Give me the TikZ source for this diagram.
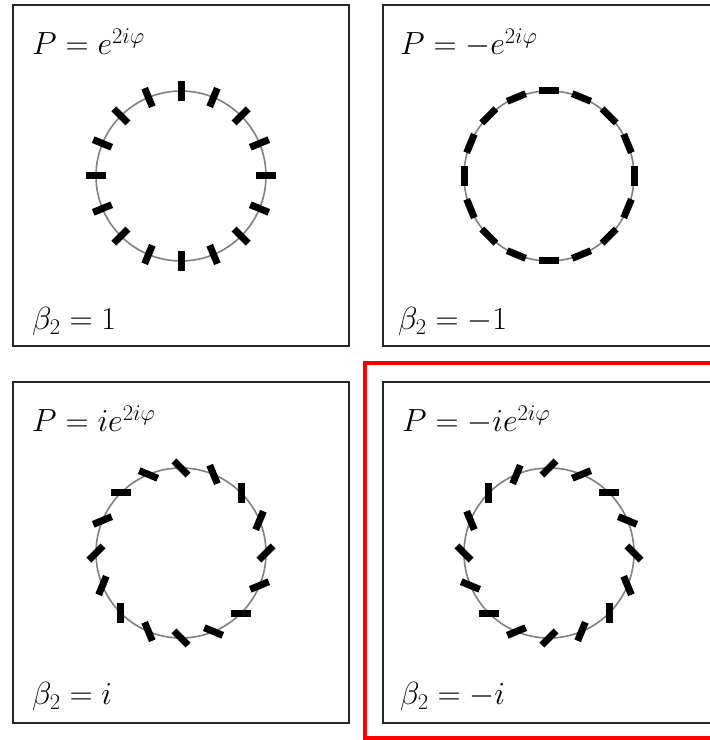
\RequirePackage{fix-cm}
\documentclass[tikz,border=0pt]{standalone}
\begin{document}
\begin{tikzpicture}[x=1pt,y=1pt]
\tikzset{
  panel/.style={draw=black!85, line width=2pt},
  ring/.style={draw=black!50, line width=1.6pt},
  bar/.style={draw=black, line width=7pt, line cap=butt},
  lbl/.style={anchor=base west, inner sep=0pt, font=\fontsize{32}{38}\selectfont},
  redframe/.style={draw=red, line width=4pt}
}
\useasboundingbox (0,0) rectangle (710,740);
\clip (0,0) rectangle (710,740);
\fill[white] (0,0) rectangle (710,740);

% panels
\draw[panel] (13,394) rectangle (349,735);
\draw[panel] (383,394) rectangle (719,735);
\draw[panel] (13,17) rectangle (349,358);
\draw[panel] (383,17) rectangle (719,358);
\draw[redframe] (365,2) rectangle (730,377);

% centres
\coordinate (c1) at (181,564);
\coordinate (c2) at (549,564);
\coordinate (c3) at (181,187);
\coordinate (c4) at (549,187);

\draw[ring] (c1) circle (85pt);
\draw[ring] (c2) circle (85pt);
\draw[ring] (c3) circle (85pt);
\draw[ring] (c4) circle (85pt);

\foreach \k in {0,...,15}{
  \pgfmathsetmacro{\ph}{22.5*\k}
  \draw[bar] (c1) ++(\ph:85pt) ++({\ph}:-10pt) -- ++({\ph}:20pt);
  \draw[bar] (c2) ++(\ph:85pt) ++({\ph+90}:-10pt) -- ++({\ph+90}:20pt);
  \draw[bar] (c3) ++(\ph:85pt) ++({\ph+45}:-10pt) -- ++({\ph+45}:20pt);
  \draw[bar] (c4) ++(\ph:85pt) ++({\ph-45}:-10pt) -- ++({\ph-45}:20pt);
}

% labels
\node[lbl] (p1) at (32,685) {$P=e^{2i\varphi}$};
\node[lbl] (b1) at (32,410) {$\beta_2=1$};
\node[lbl] (p2) at (400,685) {$P=-e^{2i\varphi}$};
\node[lbl] (b2) at (398,410) {$\beta_2=-1$};
\node[lbl] (p3) at (32,308) {$P=ie^{2i\varphi}$};
\node[lbl] (b3) at (32,35) {$\beta_2=i$};
\node[lbl] (p4) at (402,308) {$P=-ie^{2i\varphi}$};
\node[lbl] (b4) at (400,35) {$\beta_2=-i$};
\end{tikzpicture}
\end{document}
